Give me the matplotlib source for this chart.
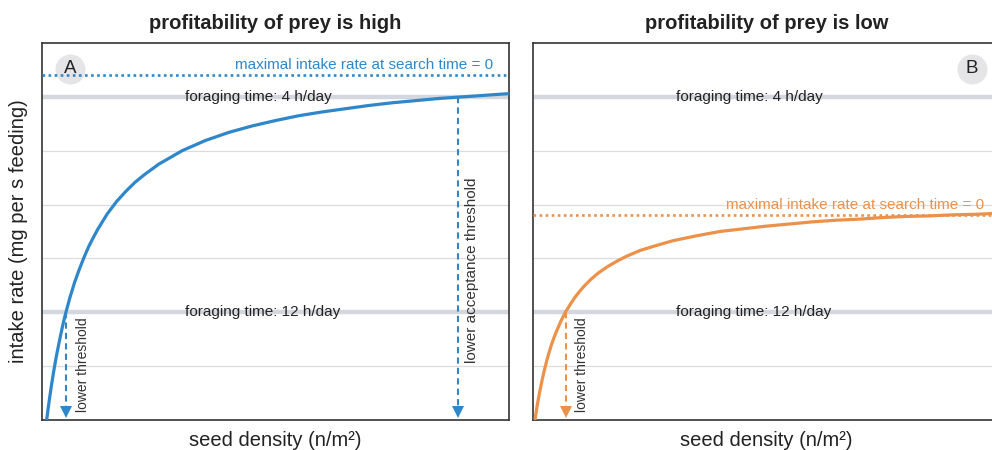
import matplotlib
matplotlib.use('Agg')
import matplotlib.pyplot as plt

plt.rcParams['font.family'] = ['Liberation Sans', 'DejaVu Sans']

# ---------------- data ----------------
titles = ['profitability of prey is high', 'profitability of prey is low']
panel_letters = ['A', 'B']
colors = ['#2f87c9', '#ec914a']

# seed density (relative units, 0-100) and intake rate (relative units, 0-7)
high_x = [1, 1.25, 1.5, 1.75, 2, 2.5, 3, 3.5, 4, 4.5, 5, 5.5, 6, 7, 8, 9, 10, 11, 12,
          13, 14, 16, 18, 20, 22, 25, 30, 35, 40, 45, 50, 55, 60, 65, 70, 75, 80,
          85, 90, 95, 100]
high_y = [0, 0.17, 0.33, 0.48, 0.63, 0.90, 1.15, 1.37, 1.58, 1.78, 1.96, 2.12, 2.28,
          2.56, 2.80, 3.02, 3.22, 3.39, 3.55, 3.69, 3.83, 4.06, 4.25, 4.42, 4.56,
          4.75, 5.00, 5.19, 5.34, 5.46, 5.56, 5.65, 5.72, 5.78, 5.84, 5.89, 5.93,
          5.97, 6.00, 6.03, 6.06]
low_x = [0.43, 0.7, 1, 1.5, 2, 2.5, 3, 3.5, 4, 4.5, 5, 5.5, 6, 7, 8, 9, 10, 11, 12.5,
         14, 16, 18, 20, 23, 26, 30, 35, 40, 45, 50, 55, 60, 65, 70, 75, 80, 85, 90,
         95, 100]
low_y = [0, 0.16, 0.32, 0.55, 0.76, 0.95, 1.12, 1.27, 1.41, 1.53, 1.64, 1.74, 1.84,
         2.01, 2.15, 2.28, 2.39, 2.49, 2.62, 2.73, 2.85, 2.95, 3.04, 3.15, 3.23,
         3.33, 3.42, 3.50, 3.55, 3.60, 3.64, 3.68, 3.71, 3.73, 3.76, 3.78, 3.79,
         3.81, 3.82, 3.84]

max_intake = [6.41, 3.81]
max_label = 'maximal intake rate at search time = 0'
foraging_levels = [6, 2]
foraging_labels = ['foraging time: 4 h/day', 'foraging time: 12 h/day']
grid_levels = [1, 3, 4, 5]

# thresholds: (x, y-level, label, label x, label top, font size)
high_thresholds = [(5.14, 2, 'lower threshold', 8.8, 1.91, 10),
                   (89.1, 6, 'lower acceptance threshold', 92.0, 4.51, 11)]
low_thresholds = [(6.96, 2, 'lower threshold', 10.4, 1.91, 10)]

curves = [(high_x, high_y), (low_x, low_y)]
thresholds = [high_thresholds, low_thresholds]
letter_pos = [(6.0, 6.52), (94.0, 6.52)]

# ---------------- figure ----------------
W, H = 992, 450
fig = plt.figure(figsize=(W / 100, H / 100), dpi=100)

ax_left_px = [42, 533]
ax_w_px = 467
ax_bottom_px = 420
ax_top_px = 43

grey_text = '#222222'

for i in range(2):
    ax = fig.add_axes([ax_left_px[i] / W, 1 - ax_bottom_px / H, ax_w_px / W,
                       (ax_bottom_px - ax_top_px) / H])
    ax.set_xlim(0, 100)
    ax.set_ylim(0, 7)
    ax.set_xticks([])
    ax.set_yticks([])
    for s in ax.spines.values():
        s.set_color('#333333')
        s.set_linewidth(1.2)

    for g in grid_levels:
        ax.axhline(g, color='#dcdcdc', lw=0.9, zorder=1)
    for lvl, lab in zip(foraging_levels, foraging_labels):
        ax.axhline(lvl, color='#d4d7dd', lw=3.2, zorder=1.5)
        ax.text(30.6, lvl, lab, ha='left', va='center', fontsize=11,
                color=grey_text, zorder=2)

    c = colors[i]
    # maximal intake rate line
    ax.axhline(max_intake[i], color=c, lw=1.9, linestyle=(0, (1, 1.3)), zorder=3)
    ax.annotate(max_label, xy=(96.6, max_intake[i]), xytext=(0, 4.5),
                textcoords='offset points', ha='right', va='baseline',
                fontsize=11, color=c, zorder=3)

    # curve
    xs, ys = curves[i]
    ax.plot(xs, ys, color=c, lw=2.3, zorder=4, solid_capstyle='butt',
            solid_joinstyle='round')

    # thresholds
    for (tx, ty, lab, lx, ltop, fs) in thresholds[i]:
        ax.plot([tx, tx], [ty, 0.25], color=c, lw=1.5, linestyle=(0, (3, 2)), zorder=3)
        ax.plot([tx], [0.15], marker='v', markersize=9, color=c,
                markeredgewidth=0, zorder=3, clip_on=False)
        ax.text(lx, ltop, lab, rotation=90, ha='center', va='top', fontsize=fs,
                color='#333333', zorder=3)

    # panel letter
    lx, ly = letter_pos[i]
    ax.plot([lx], [ly], marker='o', markersize=21.6, color='#e5e5e7',
            markeredgewidth=0, zorder=2, clip_on=False)
    ax.text(lx, ly, panel_letters[i], ha='center', va='center', fontsize=13.5,
            color=grey_text, zorder=3)

    ax.set_title(titles[i], fontsize=14.5, fontweight='bold', color=grey_text, pad=10)

    cx = (ax_left_px[i] + ax_w_px / 2) / W
    fig.text(cx, 1 - 441 / H, 'seed density (n/m²)', ha='center', va='center',
             fontsize=14.5, color=grey_text)

fig.text(19 / W, 1 - 231.5 / H, 'intake rate (mg per s feeding)', rotation=90,
         ha='center', va='center', fontsize=14.5, color=grey_text)

fig.savefig('out.png', dpi=100)
